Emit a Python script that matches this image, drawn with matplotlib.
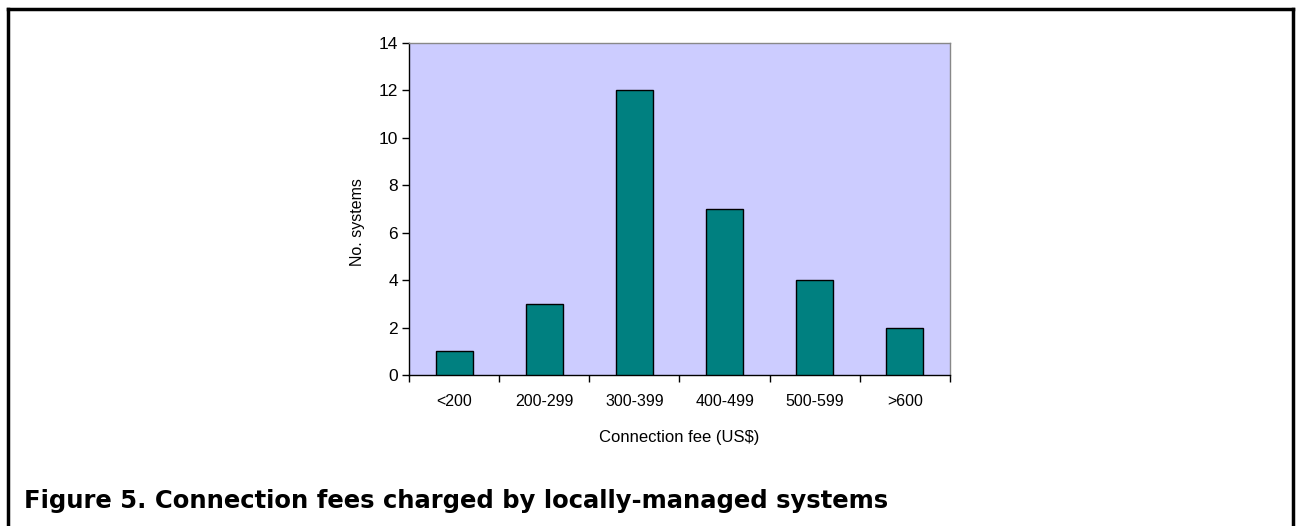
import matplotlib
matplotlib.use("Agg")
import matplotlib.pyplot as plt
from matplotlib.lines import Line2D

categories = ["<200", "200-299", "300-399", "400-499", "500-599", ">600"]
counts = [1, 3, 12, 7, 4, 2]
yticks = [0, 2, 4, 6, 8, 10, 12, 14]

plt.rcParams['font.family'] = ['Liberation Sans', 'DejaVu Sans']

W, H = 1298, 526
fig = plt.figure(figsize=(W/100, H/100), dpi=100)
fig.patch.set_facecolor('white')

ax = fig.add_axes([409/W, 1-375/H, (950-409)/W, (375-43)/H])
ax.set_facecolor('#CCCCFF')
x = list(range(len(categories)))
ax.bar(x, counts, width=0.41, color='#008080', edgecolor='black', linewidth=1.0, zorder=3)
ax.set_xlim(-0.5, len(categories)-0.5)
ax.set_ylim(0, 14)
ax.set_yticks(yticks)
ax.set_yticklabels([str(v) for v in yticks], fontsize=12.5)
ax.set_xticks([i - 0.5 for i in range(len(categories)+1)])
ax.set_xticklabels([])
ax.set_xticks(x, minor=True)
ax.set_xticklabels(categories, minor=True, fontsize=11.5)
ax.tick_params(axis='x', which='minor', length=0, pad=14)
ax.tick_params(axis='x', which='major', length=5, direction='out', width=1)
ax.tick_params(axis='y', length=5, direction='out', width=1, pad=3)
for s in ['top', 'right']:
    ax.spines[s].set_color('#888888')
    ax.spines[s].set_linewidth(1)
for s in ['left', 'bottom']:
    ax.spines[s].set_color('black')
    ax.spines[s].set_linewidth(1)
ax.set_xlabel("Connection fee (US$)", fontsize=12, labelpad=15)
ax.set_ylabel("No. systems", fontsize=11.5)
ax.yaxis.set_label_coords(-0.081, 0.46)

# outer frame (left, top, right)
lw = 2.5
fig.add_artist(Line2D([8/W, 8/W], [0, 1-9/H], color='black', linewidth=lw, transform=fig.transFigure))
fig.add_artist(Line2D([8/W, 1293/W], [1-9/H, 1-9/H], color='black', linewidth=lw, transform=fig.transFigure))
fig.add_artist(Line2D([1293/W, 1293/W], [0, 1-9/H], color='black', linewidth=lw, transform=fig.transFigure))

fig.text(24/W, 1-508/H, "Figure 5. Connection fees charged by locally-managed systems",
         fontsize=17.5, fontweight='bold', ha='left', va='baseline', family=['DejaVu Sans'])

fig.savefig("out.png", dpi=100)
